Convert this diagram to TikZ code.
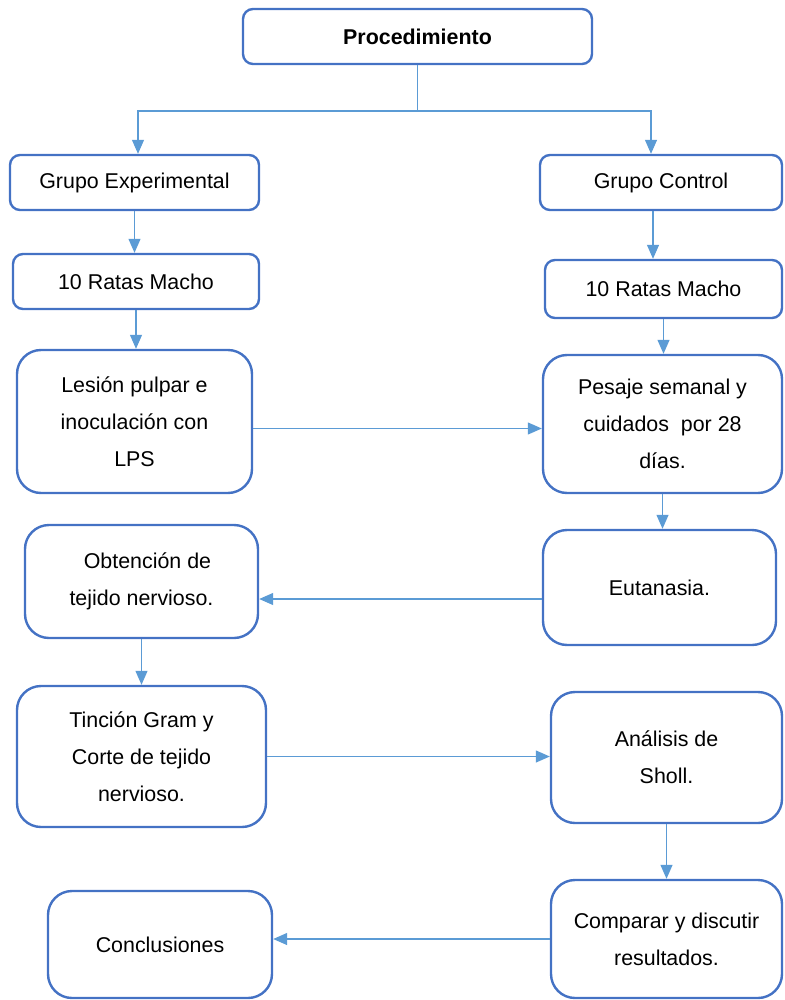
\documentclass[tikz,border=0pt]{standalone}
\usepackage{fontspec}
\setmainfont{Liberation Sans}
\usepackage{tikz}
\usetikzlibrary{positioning, calc, arrows.meta}
\definecolor{boxblue}{RGB}{68,114,196}
\definecolor{lineblue}{RGB}{91,155,213}

\begin{document}
\begin{tikzpicture}[x=0.5pt, y=-0.5pt, >={Triangle[length=7pt,width=6pt]},
  box/.style={draw=boxblue, line width=1.2pt, rounded corners=5pt, align=center,
    inner sep=0pt, font=\fontsize{10.7}{18.5}\selectfont},
  bigbox/.style={box, rounded corners=12pt},
  link/.style={draw=lineblue, line width=0.6pt, ->}]
\useasboundingbox (0,0) rectangle (784,1000);

% top and the two groups
\draw(417.5,36.5) node[box, minimum width=174.5pt, minimum height=27.5pt] (proc) {\textbf{Procedimiento}};
\draw(134.5,182.5) node[box, minimum width=124.5pt, minimum height=27.5pt] (exp) {Grupo Experimental};
\draw(661,182.5) node[box, minimum width=121pt, minimum height=27.5pt] (ctrl) {Grupo Control};
\draw(136,281.5) node[box, minimum width=123pt, minimum height=27.5pt] (ratasE) {10 Ratas Macho};
\draw(663.5,289) node[box, minimum width=118.5pt, minimum height=29pt] (ratasC) {10 Ratas Macho};

% steps
\draw(134.5,421.5) node[bigbox, minimum width=117.5pt, minimum height=71.5pt] (lesion) {Lesión pulpar e\\inoculación con\\LPS};
\draw(662.5,424) node[bigbox, minimum width=119.5pt, minimum height=69pt] (pesaje) {Pesaje semanal y\\cuidados \ por 28\\días.};
\draw(659.5,587.5) node[bigbox, minimum width=116.5pt, minimum height=57.5pt] (eutan) {Eutanasia.};
\draw(141.5,581.5) node[bigbox, minimum width=116.5pt, minimum height=56.5pt] (obten) {\ \ Obtención de\\tejido nervioso.};
\draw(141.5,756.5) node[bigbox, minimum width=124.5pt, minimum height=70.5pt] (tincion) {Tinción Gram y\\Corte de tejido\\nervioso.};
\draw(666.5,757.5) node[bigbox, minimum width=115.5pt, minimum height=65.5pt] (sholl) {Análisis de\\Sholl.};
\draw(666.5,939) node[bigbox, minimum width=115.5pt, minimum height=59pt] (comparar) {Comparar y discutir\\resultados.};
\draw(160,944.5) node[bigbox, minimum width=112pt, minimum height=53.5pt] (concl) {Conclusiones};

% connectors
\coordinate (split) at (417.5,111);
\draw[link, -] (proc) -- (split);
\draw[link] (split) -| ([xshift=1.75pt]exp.north);
\draw[link] (split) -| ([xshift=-5pt]ctrl.north);
\draw[link] (exp) -- (exp |- ratasE.north);
\draw[link] ([xshift=-4pt]ctrl.south) -- ([xshift=-4pt]ctrl.south |- ratasC.north);
\draw[link] (ratasE) -- (ratasE |- lesion.north);
\draw[link] (ratasC) -- (ratasC |- pesaje.north);
\draw[link] ([yshift=-3.5pt]lesion.east) -- ([yshift=-3.5pt]lesion.east -| pesaje.west);
\draw[link] (pesaje) -- (pesaje |- eutan.north);
\draw[link] ([yshift=-5.75pt]eutan.west) -- ([yshift=-5.75pt]eutan.west -| obten.east);
\draw[link] (obten) -- (obten |- tincion.north);
\draw[link] (tincion) -- (tincion -| sholl.west);
\draw[link] (sholl) -- (sholl |- comparar.north);
\draw[link] (comparar) -- (comparar -| concl.east);

\end{tikzpicture}
\end{document}
